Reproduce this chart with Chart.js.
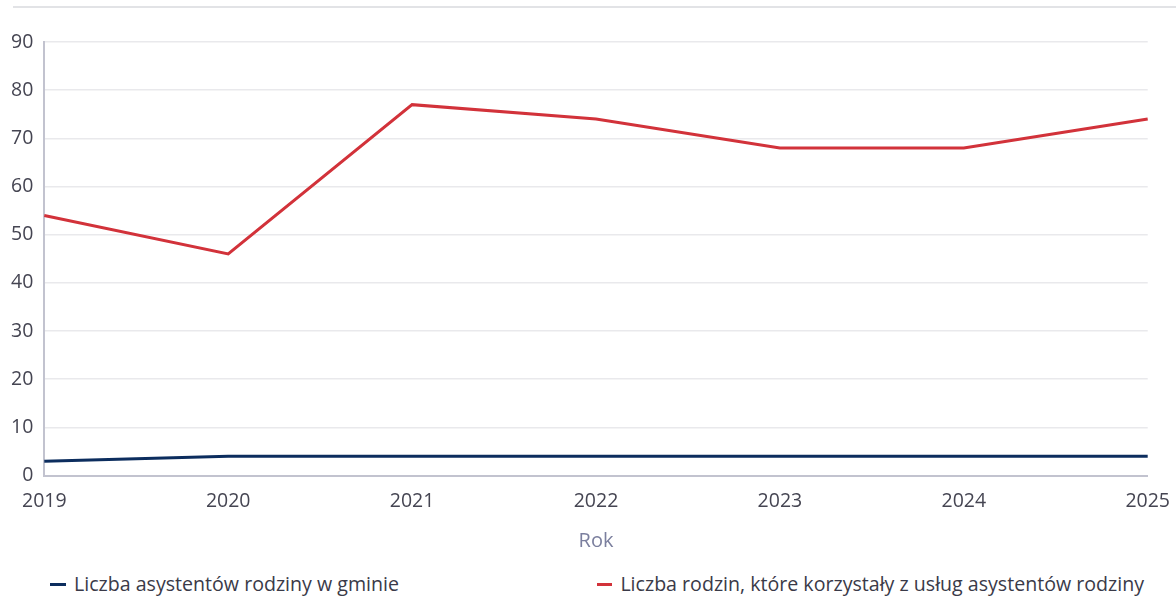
<!DOCTYPE html>
<html>
<head>
<meta charset="utf-8">
<script src="https://cdn.jsdelivr.net/npm/chart.js@4.4.1/dist/chart.umd.min.js"></script>
<style>
    body { margin: 0; background: #fff; font-family: "Open Sans", sans-serif; overflow: hidden; }
    #topline { position: absolute; top: 6px; left: 13px; right: 0; height: 2px; background: #e2e3e6; }
    #wrap { position: absolute; top: 0; left: 0; width: 1184px; height: 560px; }
    #legend { position: absolute; top: 570px; left: 50px; width: 1126px; display: flex; font-size: 19.6px; line-height: 28px; color: #3a3a48; white-space: nowrap; }
    #legend .item { width: 547px; display: flex; align-items: center; flex: none; }
    #legend .swatch { width: 16px; height: 3px; margin-right: 8px; }
</style>
</head>
<body>
<div id="topline"></div>
<div id="wrap"><canvas id="chart"></canvas></div>
<div id="legend"></div>
<script>
const years = ["2019", "2020", "2021", "2022", "2023", "2024", "2025"];
const assistants = [3, 4, 4, 4, 4, 4, 4];
const families = [54, 46, 77, 74, 68, 68, 74];
const seriesNames = ["Liczba asystentów rodziny w gminie", "Liczba rodzin, które korzystały z usług asystentów rodziny"];
const seriesColors = ["#0c2d5e", "#d2323a"];

document.addEventListener("DOMContentLoaded", function () {
    const ctx = document.getElementById("chart").getContext("2d");
    const tickColor = "#454552";

    const chart = new Chart(ctx, {
        type: "line",
        data: {
            labels: years,
            datasets: [
                { label: seriesNames[0], data: assistants, borderColor: seriesColors[0], backgroundColor: seriesColors[0], borderWidth: 3, pointRadius: 0, tension: 0 },
                { label: seriesNames[1], data: families, borderColor: seriesColors[1], backgroundColor: seriesColors[1], borderWidth: 3, pointRadius: 0, tension: 0 }
            ]
        },
        options: {
            responsive: true,
            maintainAspectRatio: false,
            animation: false,
            layout: { padding: { top: 42, left: 0, right: 0, bottom: 7 } },
            plugins: { legend: { display: false }, tooltip: { enabled: false } },
            scales: {
                x: {
                    offset: false,
                    grid: { display: false, drawTicks: false },
                    border: { color: "#c2c3cf", width: 2 },
                    ticks: { color: tickColor, font: { family: "Open Sans", size: 19.5 }, padding: 14, maxRotation: 0 },
                    title: { display: true, text: "Rok", color: "#7b7f9e", font: { family: "Open Sans", size: 20 }, padding: { top: 2, bottom: 0 } }
                },
                y: {
                    min: 0,
                    max: 90,
                    grid: { color: "#e9e9ec", lineWidth: 1.5, drawTicks: false },
                    border: { color: "#c2c3cf", width: 2 },
                    ticks: { stepSize: 10, color: tickColor, font: { family: "Open Sans", size: 19.5 }, padding: 11 }
                }
            }
        }
    });

    // legend built from the datasets
    const legend = document.getElementById("legend");
    chart.data.datasets.forEach(ds => {
        const item = document.createElement("div");
        item.className = "item";
        item.innerHTML = `<span class="swatch" style="background:${ds.borderColor}"></span><span>${ds.label}</span>`;
        legend.appendChild(item);
    });
});
</script>
</body>
</html>
